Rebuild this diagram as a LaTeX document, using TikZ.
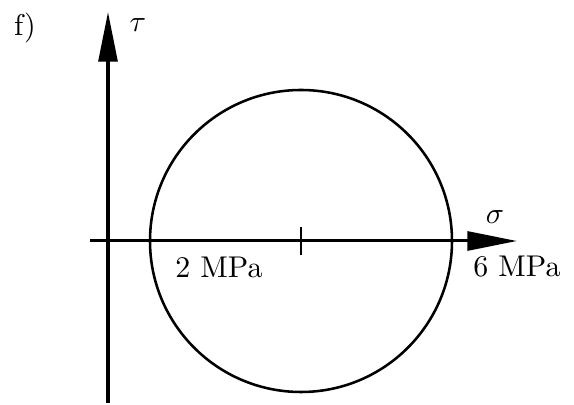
\documentclass[tikz,border=0pt]{standalone}
\usepackage{amsmath,amssymb}
\usepackage{tikz}
\usetikzlibrary{arrows.meta,calc}

\begin{document}
\begin{tikzpicture}[x=0.3333pt,y=0.3333pt,>={Triangle[length=16.5pt,width=6.3pt]}]
\useasboundingbox (-108,-164) rectangle (466,241);
\coordinate (O) at (0,0);
\coordinate (xs) at (-18,0);
\coordinate (xe) at (409,0);
\coordinate (ys) at (0,-162);
\coordinate (ye) at (0,229);
\coordinate (C) at (193,0);
\draw[line width=1pt,->] (xs) -- (xe);
\draw[line width=1pt,->] (ys) -- (ye);
\draw[line width=0.85pt] (C) circle[radius=151];
\draw[line width=0.8pt] ($(C)+(0,14)$) -- ($(C)+(0,-14)$);
\node (tau) at (30,216) {$\tau$};
\node (sigma) at (387,24) {$\sigma$};
\node (lo) at (111,-26) {2 MPa};
\node (hi) at (409,-26) {6 MPa};
\node (lab) at (-83,213) {f)};
\end{tikzpicture}
\end{document}
